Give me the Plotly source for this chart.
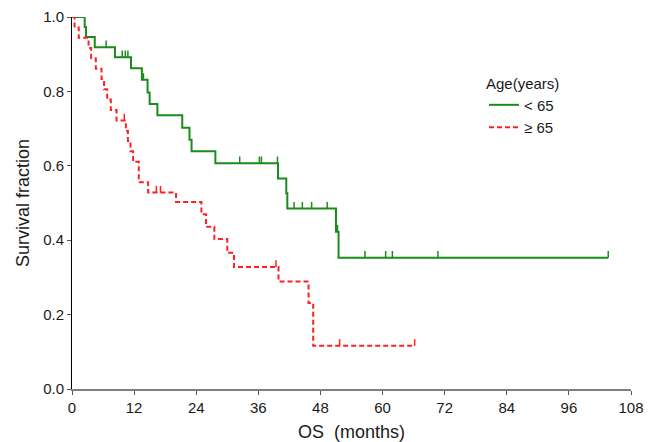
import numpy as np
import plotly.graph_objects as go

# ---- data ----
x_ticks = [0, 12, 24, 36, 48, 60, 72, 84, 96, 108]
y_ticks = [0.0, 0.2, 0.4, 0.6, 0.8, 1.0]

young_label = "< 65"
young_times = [0, 2.45, 2.7, 4.4, 8.3, 11.4, 13.5, 14.6, 15.0, 16.5, 21.3, 22.7, 23.1,
               27.7, 39.8, 41.4, 41.6, 51.0, 51.5]
young_surv = [1.0, 0.973, 0.946, 0.919, 0.892, 0.862, 0.831, 0.797, 0.766, 0.736, 0.702,
              0.670, 0.639, 0.607, 0.566, 0.526, 0.485, 0.423, 0.353]
young_end = 103.6
young_censor = [6.6, 9.7, 10.3, 10.8, 13.8, 32.4, 36.2, 36.6, 39.7, 42.9, 44.5, 46.3,
                49.3, 51.3, 56.6, 60.6, 61.9, 70.7, 103.6]

old_label = "≥ 65"
old_times = [0, 0.5, 1.3, 3.2, 3.7, 4.6, 5.7, 6.2, 6.8, 7.5, 8.6, 10.4, 10.8, 11.3, 11.8,
             12.9, 14.7, 20.1, 25.0, 25.9, 27.5, 30.0, 31.3, 39.9, 45.7, 46.6]
old_surv = [1.0, 0.972, 0.944, 0.917, 0.889, 0.861, 0.833, 0.806, 0.778, 0.750, 0.722,
            0.694, 0.667, 0.639, 0.611, 0.556, 0.528, 0.503, 0.470, 0.436, 0.403, 0.366,
            0.328, 0.289, 0.231, 0.116]
old_end = 66.2
old_censor = [10.1, 16.3, 17.1, 39.4, 51.7, 66.2]

GREEN = "#1a8c1a"
RED = "#ff2020"
TICK_H = 0.018


def step_level(times, surv, t):
    i = np.searchsorted(np.array(times), t, side="right") - 1
    return surv[max(i, 0)]


def censor_segments(times, surv, cens):
    xs, ys = [], []
    for c in cens:
        lv = step_level(times, surv, c)
        xs += [c, c, None]
        ys += [lv, lv + TICK_H, None]
    return xs, ys


fig = go.Figure()

groups = [
    (young_label, young_times, young_surv, young_end, young_censor, GREEN, "solid"),
    (old_label, old_times, old_surv, old_end, old_censor, RED, "5px,3px"),
]
for name, tt, ss, end, cens, col, dash in groups:
    fig.add_trace(go.Scatter(
        x=list(tt) + [end], y=list(ss) + [ss[-1]],
        mode="lines", line=dict(color=col, width=2, shape="hv", dash=dash),
        name=name, cliponaxis=False))
    cx, cy = censor_segments(tt, ss, cens)
    fig.add_trace(go.Scatter(
        x=cx, y=cy, mode="lines", line=dict(color=col, width=1.5),
        showlegend=False, hoverinfo="skip", cliponaxis=False))

fig.update_layout(
    width=657, height=442,
    margin=dict(l=72, r=26, t=17, b=53, autoexpand=False),
    plot_bgcolor="white", paper_bgcolor="white",
    font=dict(family="Liberation Sans, Arial, sans-serif", size=15, color="#1a1a1a"),
    showlegend=True,
    legend=dict(
        title=dict(text="Age(years)", font=dict(size=15), side="top"),
        x=0.737, y=0.86, xanchor="left", yanchor="top",
        bgcolor="rgba(0,0,0,0)", font=dict(size=15),
        tracegroupgap=0, itemwidth=30),
)
fig.update_xaxes(
    range=[0, 108], tickvals=x_ticks, ticktext=[str(v) for v in x_ticks],
    showgrid=False, zeroline=False, showline=True, linecolor="#808080", linewidth=2,
    ticks="outside", ticklen=4, tickcolor="#555", tickwidth=1, automargin=False,
    title=dict(text="OS\u00a0 (months)", standoff=12),
)
fig.update_yaxes(
    range=[0, 1], tickvals=y_ticks, ticktext=[f"{v:.1f}" for v in y_ticks],
    showgrid=False, zeroline=False, showline=True, linecolor="black", linewidth=1,
    ticks="outside", ticklen=4, tickcolor="#555", tickwidth=1, automargin=False,
    title=dict(text="Survival fraction", standoff=8),
)

fig.write_html("out.html")
